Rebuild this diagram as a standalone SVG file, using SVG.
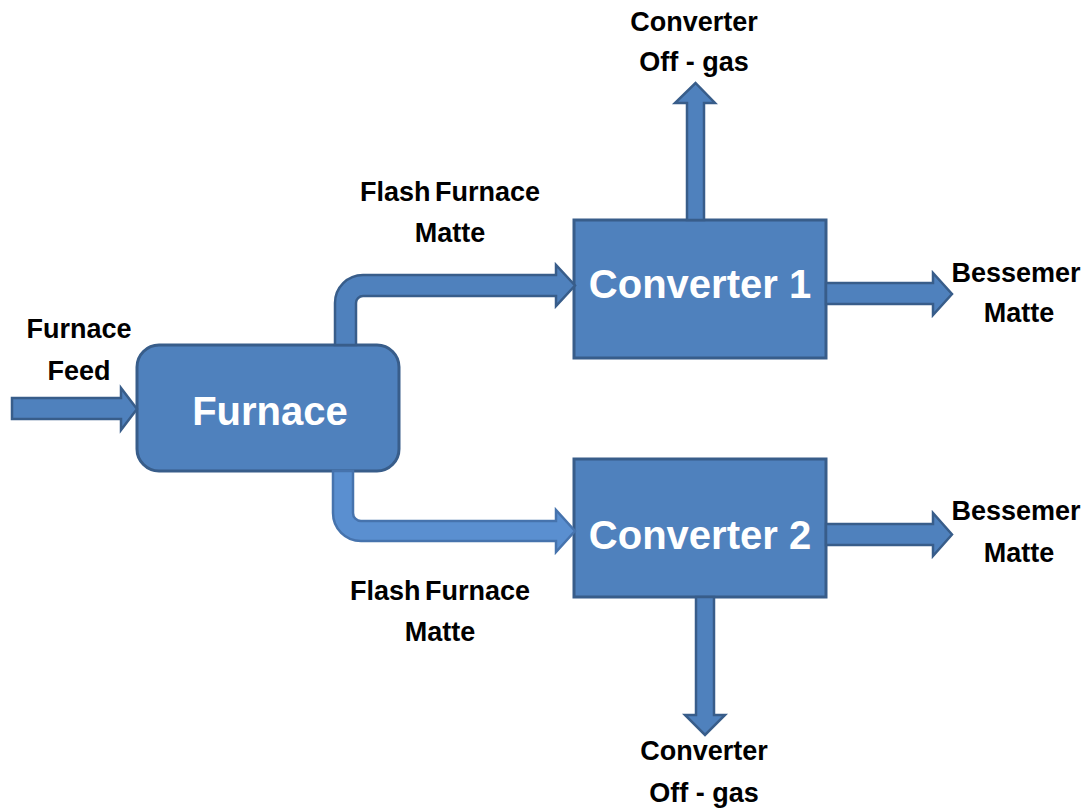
<svg xmlns="http://www.w3.org/2000/svg" width="1086" height="808" viewBox="0 0 1086 808">
  <style>
    .box { fill: #4F81BD; stroke: #385D8A; stroke-width: 3; }
    .flow { fill: #4F81BD; stroke: #385D8A; stroke-width: 2.5; stroke-linejoin: miter; }
    .flow-lt { fill: #5A8FD0; stroke: #4673AD; stroke-width: 2.5; }
    .title { font-family: "Liberation Sans", Arial, sans-serif; font-weight: bold; font-size: 40px; fill: #FFFFFF; text-anchor: middle; }
    .label { font-family: "Liberation Sans", Arial, sans-serif; font-weight: bold; font-size: 27px; fill: #000000; text-anchor: middle; }
    .tight { word-spacing: -3px; }
  </style>

  <rect width="1086" height="808" fill="#FFFFFF"/>

  <!-- process units -->
  <g id="furnace">
    <rect class="box" x="137" y="345" width="262" height="126" rx="22" ry="22"/>
    <text class="title" x="270" y="425">Furnace</text>
  </g>
  <g id="converter1">
    <rect class="box" x="574" y="220" width="252" height="138"/>
    <text class="title" x="700" y="298">Converter 1</text>
  </g>
  <g id="converter2">
    <rect class="box" x="574" y="459" width="252" height="138"/>
    <text class="title" x="700" y="549">Converter 2</text>
  </g>

  <!-- material flows -->
  <g id="connectors">
    <!-- furnace feed -->
    <path class="flow" d="M12,398 H121 V388 L137,409 L121,430 V419 H12 Z"/>
    <!-- furnace matte to converter 1 -->
    <path class="flow" d="M335,345 V303 A28,28 0 0 1 363,275 H556 V265 L575,285.5 L556,306 V296 H363 A7,7 0 0 0 356,303 V345 Z"/>
    <!-- furnace matte to converter 2 -->
    <path class="flow-lt" d="M333,471 V513 A28,28 0 0 0 361,541 H556 V552 L575,531 L556,510 V521 H361 A8,8 0 0 1 353,513 V471 Z"/>
    <!-- converter 1 off-gas -->
    <path class="flow" d="M687,220 V103 H675 L695.5,83 L715,103 H704 V220 Z"/>
    <!-- converter 1 bessemer matte -->
    <path class="flow" d="M826,283 H933 V273 L952,294 L933,315 V304 H826 Z"/>
    <!-- converter 2 bessemer matte -->
    <path class="flow" d="M826,524 H933 V513 L952,534.5 L933,556 V545 H826 Z"/>
    <!-- converter 2 off-gas -->
    <path class="flow" d="M696,597 V715 H685 L705,735 L725,715 H714 V597 Z"/>
  </g>

  <!-- stream labels -->
  <g id="label-feed">
    <text class="label" x="79" y="338">Furnace</text>
    <text class="label" x="79" y="380">Feed</text>
  </g>
  <g id="label-matte-top">
    <text class="label tight" x="450" y="201">Flash Furnace</text>
    <text class="label" x="450" y="242">Matte</text>
  </g>
  <g id="label-matte-bottom">
    <text class="label tight" x="440" y="600">Flash Furnace</text>
    <text class="label" x="440" y="641">Matte</text>
  </g>
  <g id="label-offgas-top">
    <text class="label" x="694" y="31">Converter</text>
    <text class="label" x="694" y="71">Off - gas</text>
  </g>
  <g id="label-offgas-bottom">
    <text class="label" x="704" y="760">Converter</text>
    <text class="label" x="704" y="802">Off - gas</text>
  </g>
  <g id="label-bessemer-1">
    <text class="label" x="1016" y="282">Bessemer</text>
    <text class="label" x="1019" y="322">Matte</text>
  </g>
  <g id="label-bessemer-2">
    <text class="label" x="1016" y="520">Bessemer</text>
    <text class="label" x="1019" y="562">Matte</text>
  </g>
</svg>
